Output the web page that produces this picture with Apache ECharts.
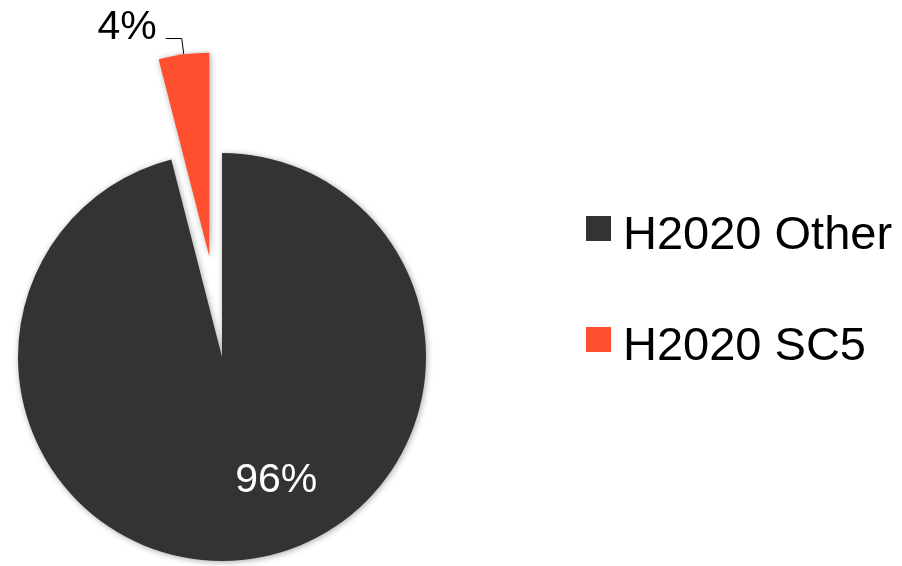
<!DOCTYPE html>
<html>
<head>
<meta charset="utf-8">
<script src="https://cdn.jsdelivr.net/npm/echarts@6/dist/echarts.min.js"></script>
<style>
html,body{margin:0;padding:0;background:#fff;}
#chart{width:902px;height:566px;}
</style>
</head>
<body>
<div id="chart"></div>
<script>
var categories = ['H2020 Other', 'H2020 SC5'];
var values = [96, 4];
var labels = ['96%', '4%'];
var colors = ['#333333', '#FF4F2E'];

var FONT = 'Liberation Sans, Arial';
var chart = echarts.init(document.getElementById('chart'), null, {renderer: 'canvas'});
var data = categories.map(function (c, i) {
  var item = {
    name: c,
    value: values[i],
    itemStyle: {color: colors[i]}
  };
  if (i === 0) {
    item.label = {position: 'inside', color: '#ffffff', offset: [41, 20],
      formatter: '{t|' + labels[i] + '}',
      rich: {t: {fontFamily: FONT, fontSize: 41, color: '#ffffff'}}};
    item.labelLine = {show: false};
  } else {
    item.selected = true;
    item.label = {position: 'outside', color: '#000000', distanceToLabelLine: 9,
      formatter: '{t|' + labels[i] + '}\n{s| }',
      rich: {t: {fontFamily: FONT, fontSize: 41, color: '#000000', lineHeight: 44},
             s: {fontSize: 1, lineHeight: 22}}};
    item.labelLine = {show: true, length: 16, length2: 16, lineStyle: {color: '#000', width: 1}};
  }
  return item;
});
chart.setOption({
  animation: false,
  backgroundColor: '#ffffff',
  legend: {
    orient: 'vertical',
    left: 581,
    top: 198,
    itemWidth: 25,
    itemHeight: 25,
    itemGap: 54,
    icon: 'rect',
    data: categories,
    formatter: function (n) { return '{s| }\n{t|' + n + '}'; },
    textStyle: {
      padding: [0, 0, 0, 7],
      rich: {
        t: {fontFamily: FONT, fontSize: 47, color: '#000', lineHeight: 50},
        s: {fontSize: 1, lineHeight: 16}
      }
    }
  },
  series: [{
    type: 'pie',
    center: [222, 357],
    radius: [0, 204],
    startAngle: 90,
    clockwise: true,
    selectedMode: 'single',
    selectedOffset: 101,
    avoidLabelOverlap: false,
    data: data,
    itemStyle: {
      shadowBlur: 6,
      shadowColor: 'rgba(0,0,0,0.35)',
      shadowOffsetX: 1,
      shadowOffsetY: 1
    },
    emphasis: {disabled: true},
    select: {itemStyle: {color: '#FF4F2E'}}
  }]
});
</script>
</body>
</html>
